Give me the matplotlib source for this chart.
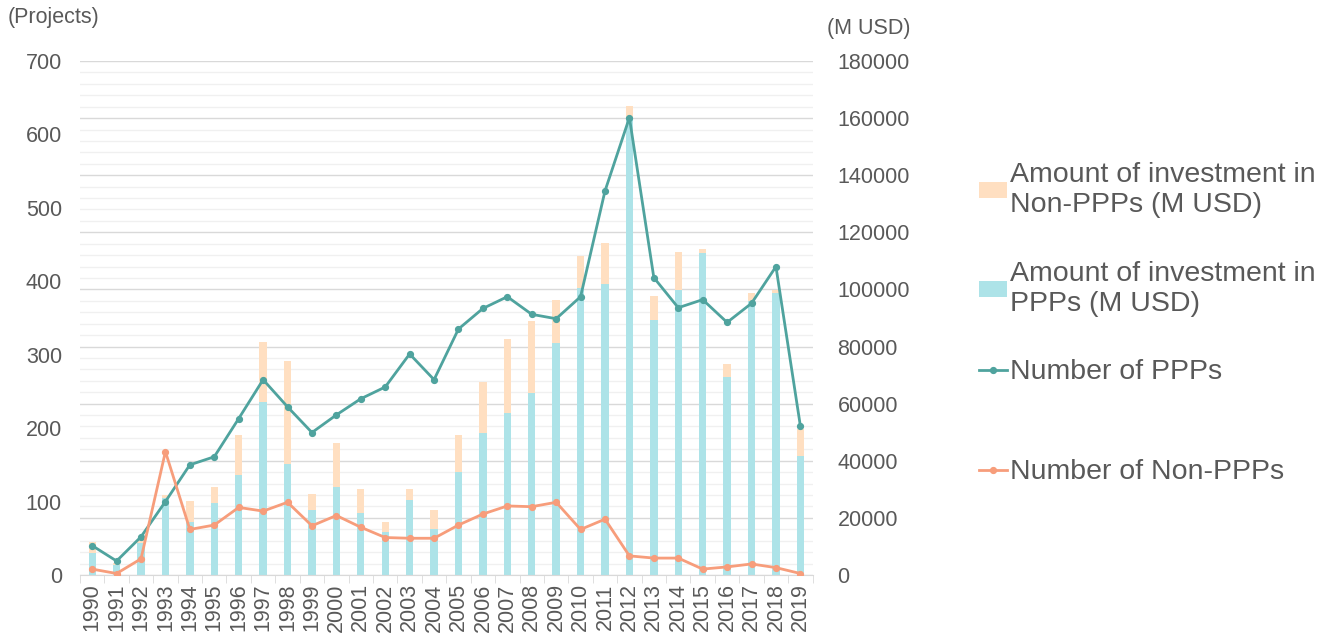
import matplotlib
matplotlib.use("Agg")
import matplotlib.pyplot as plt
import numpy as np
from matplotlib.ticker import MultipleLocator, FixedLocator

plt.rcParams['font.family'] = ['Liberation Sans', 'DejaVu Sans']

years = [str(y) for y in range(1990, 2020)]
ppp_invest = [7600, 3600, 11100, 26850, 18700, 25100, 35000, 60600, 38900, 22750,
              30900, 21700, 14950, 26250, 16000, 36200, 49600, 56700, 63800, 81100,
              100500, 102000, 160500, 89300, 99700, 112700, 69400, 96100, 98600, 41800]
total_invest = [11500, 4200, 12250, 28000, 26000, 30900, 48900, 81500, 74900, 28350,
                46200, 30100, 18550, 30100, 22700, 48900, 67500, 82500, 89050, 96300,
                111800, 116100, 164400, 97800, 113100, 114300, 73900, 98600, 99800, 51100]
nonppp_invest = [t - p for t, p in zip(total_invest, ppp_invest)]
num_ppp = [40, 19, 52, 100, 150, 161, 213, 266, 229, 194,
           218, 240, 256, 301, 266, 335, 363, 379, 355, 349,
           379, 523, 623, 405, 364, 375, 344, 370, 420, 203]
num_nonppp = [8, 2, 22, 168, 62, 68, 92, 87, 99, 67,
              81, 65, 51, 50, 50, 68, 83, 94, 93, 99,
              62, 76, 26, 23, 23, 8, 11, 15, 10, 2]

c_ppp_bar = '#ADE3E8'
c_non_bar = '#FFDFC1'
c_ppp_line = '#4FA39E'
c_non_line = '#F79D7B'
c_text = '#595959'
fs = 15.5

fig = plt.figure(figsize=(13.26, 6.39), dpi=100)
ax = fig.add_axes([0.0603, 0.1002, 0.5525, 0.8043])
x = np.arange(len(years))

b1 = ax.bar(x, ppp_invest, width=0.3, color=c_ppp_bar, zorder=2)
b2 = ax.bar(x, nonppp_invest, bottom=ppp_invest, width=0.3, color=c_non_bar, zorder=2)
ax.set_ylim(0, 180000)
ax.set_xlim(-0.5, len(years) - 0.5)
ax.yaxis.set_major_locator(MultipleLocator(20000))
ax.yaxis.set_minor_locator(MultipleLocator(4000))
ax.grid(True, which='major', axis='y', color='#D9D9D9', linewidth=1.0, zorder=0)
ax.grid(True, which='minor', axis='y', color='#F0F0F0', linewidth=1.0, zorder=0)
ax.set_axisbelow(True)
ax.set_xticks(x)
ax.set_xticklabels(years, rotation=90, fontsize=fs, color=c_text)
ax.xaxis.set_minor_locator(FixedLocator(np.arange(-0.5, len(years), 1)))
ax.tick_params(axis='x', which='major', length=0, pad=6)
ax.tick_params(axis='x', which='minor', length=6, color='#D9D9D9')
for s in ['top', 'left', 'right']:
    ax.spines[s].set_visible(False)
ax.spines['bottom'].set_color('#D9D9D9')

ax2 = ax.twinx()
ax2.set_ylim(0, 700)
ax2.yaxis.set_major_locator(MultipleLocator(100))
for s in ['top', 'left', 'right', 'bottom']:
    ax2.spines[s].set_visible(False)
l1, = ax2.plot(x, num_ppp, color=c_ppp_line, linewidth=2.0, marker='o', markersize=4.2)
l2, = ax2.plot(x, num_nonppp, color=c_non_line, linewidth=2.0, marker='o', markersize=4.2)

# place axes: M USD on right, Projects on left
ax.yaxis.tick_right()
ax.yaxis.set_label_position('right')
ax2.yaxis.tick_left()
ax2.yaxis.set_label_position('left')
ax.tick_params(axis='y', which='both', length=0, labelsize=fs, colors=c_text, pad=18,
               left=False, labelleft=False, right=True, labelright=True)
ax2.tick_params(axis='y', which='both', length=0, labelsize=fs, colors=c_text, pad=13,
                right=False, labelright=False, left=True, labelleft=True)

fig.text(0.006, 0.972, '(Projects)', fontsize=fs, color=c_text, ha='left', va='center')
fig.text(0.624, 0.956, '(M USD)', fontsize=fs, color=c_text, ha='left', va='center')

entries = [(b2, 'Amount of investment in\nNon-PPPs (M USD)', 190),
           (b1, 'Amount of investment in\nPPPs (M USD)', 289),
           (l1, 'Number of PPPs', 372),
           (l2, 'Number of Non-PPPs', 472)]
for h, lab, ypix in entries:
    fig.legend([h], [lab], loc='center left',
               bbox_to_anchor=(979 / 1326, 1 - ypix / 639), frameon=False,
               fontsize=20.5, handlelength=0.98, handletextpad=0.1, handleheight=0.5,
               borderaxespad=0, borderpad=0, labelcolor=c_text)

fig.savefig('out.png', dpi=100)
